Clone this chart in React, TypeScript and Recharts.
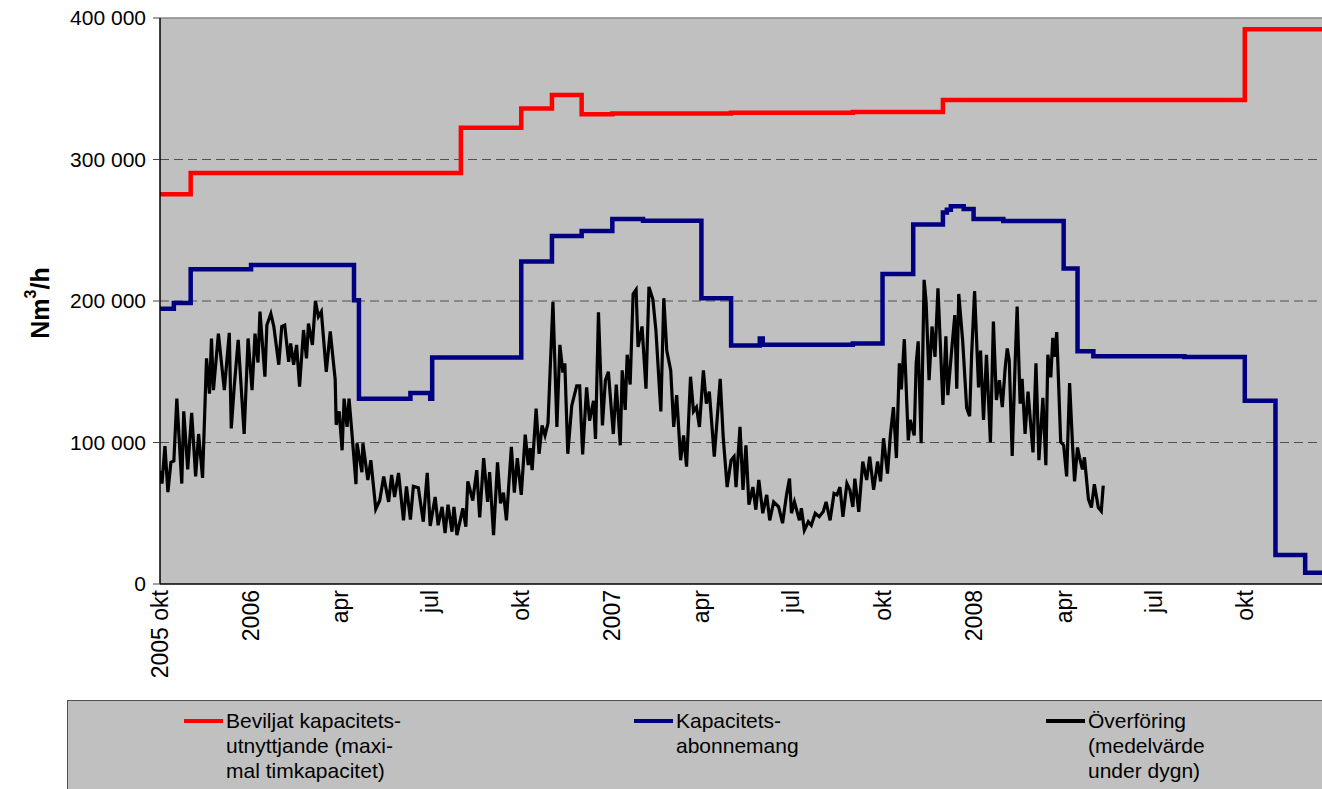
import React from 'react'
import { LineChart, Line, XAxis, YAxis, CartesianGrid, ReferenceLine } from 'recharts'

// x = days since 2005-10-01
const tickDays = [0, 92, 182, 273, 365, 457, 547, 638, 730, 822, 913, 1004, 1096]
const tickLabels = ['2005 okt', '2006', 'apr', 'jul', 'okt', '2007', 'apr', 'jul', 'okt', '2008', 'apr', 'jul', 'okt']
const yTicks = [0, 100000, 200000, 300000, 400000]
const lastDay = 1174

// Beviljat kapacitetsutnyttjande (step changes)
const grantedSteps: [number, number][] = [
  [0, 275500], [31, 290500], [304, 322500], [365, 336000], [396, 345500], [426, 332000],
  [457, 332500], [577, 333000], [700, 333500], [791, 342000], [1096, 392000], [1174, 392000],
]

// Kapacitetsabonnemang (step changes)
const subscriptionSteps: [number, number][] = [
  [0, 194500], [14, 198500], [31, 222500], [92, 225500], [196, 200500], [201, 131000],
  [253, 135000], [273, 131000], [275, 160000], [365, 228000], [396, 246000], [426, 249500],
  [457, 258000], [488, 256800], [547, 202000], [577, 168500], [606, 173500], [609, 169000],
  [700, 170000], [730, 219000], [761, 254000], [791, 262500], [795, 264500], [799, 267000],
  [812, 265000], [822, 258000], [852, 256500], [913, 223000], [927, 164500], [943, 161000],
  [1035, 160500], [1096, 129500], [1127, 20500], [1157, 8000], [1174, 8000],
]

// Överföring, dygnsmedel
const transferDaily: [number, number][] = [
  [0, 80000], [2, 71000], [5, 97500], [8, 65000], [11, 86000], [14, 87000], [17, 131000], [22, 71000],
  [24, 122000], [28, 81000], [32, 121000], [36, 76000], [39, 106000], [43, 75000], [47, 159500],
  [50, 134500], [52, 173500], [54, 137000], [59, 177000], [65, 137000], [70, 177500], [72, 110000],
  [75, 139500], [79, 172500], [85, 106000], [89, 173500], [93, 137000], [96, 177000], [99, 156500],
  [101, 192500], [106, 146500], [108, 183000], [112, 191000], [115, 182000], [120, 155000],
  [123, 182000], [126, 183000], [130, 157000], [132, 170000], [135, 155000], [138, 169000],
  [141, 139500], [145, 179500], [148, 159500], [150, 184000], [154, 169000], [157, 200000],
  [160, 189000], [163, 192500], [168, 150000], [172, 178500], [177, 144500], [178, 112500],
  [181, 122000], [184, 94500], [186, 131000], [189, 111000], [191, 131000], [194, 106000],
  [198, 70500], [199, 99500], [204, 79000], [205, 99500], [210, 73500], [213, 87500], [218, 53000],
  [222, 59000], [226, 76000], [231, 58000], [234, 77000], [237, 61500], [241, 78500], [246, 45000],
  [249, 69000], [253, 45500], [256, 69000], [261, 68000], [266, 44000], [270, 78500], [273, 41000],
  [278, 61500], [281, 41500], [285, 54500], [288, 36000], [291, 56000], [295, 37000], [297, 54500],
  [300, 34500], [303, 44000], [306, 53500], [309, 40500], [311, 72500], [316, 59000], [320, 80500],
  [323, 47000], [327, 89000], [331, 58000], [333, 79000], [337, 34500], [341, 86000], [344, 57000],
  [347, 64500], [350, 45000], [355, 97000], [358, 64500], [361, 89000], [365, 63000], [369, 105500],
  [372, 84000], [374, 96000], [376, 80500], [380, 124000], [383, 92000], [386, 112000], [389, 105000],
  [392, 113500], [397, 199500], [401, 111000], [404, 169000], [407, 149500], [409, 156000],
  [412, 92000], [416, 126000], [421, 140000], [424, 140000], [427, 91500], [431, 139000],
  [434, 115500], [438, 129500], [440, 102500], [443, 192000], [447, 112000], [450, 144000],
  [453, 150000], [458, 106000], [461, 141000], [465, 98000], [467, 151000], [470, 123000],
  [472, 162000], [475, 141000], [478, 205000], [481, 208000], [483, 167500], [487, 182000],
  [491, 138000], [494, 210000], [498, 201000], [501, 179500], [506, 122000], [509, 202000],
  [512, 165000], [516, 151000], [519, 111000], [522, 133500], [526, 87500], [529, 105000],
  [532, 83000], [536, 146500], [539, 122000], [542, 125000], [545, 111000], [549, 151000],
  [552, 127500], [555, 136000], [560, 90000], [566, 145000], [569, 104000], [573, 68500],
  [577, 87500], [580, 90000], [582, 68500], [586, 111000], [589, 66500], [592, 98000], [595, 56000],
  [599, 68500], [602, 52500], [605, 73500], [609, 50000], [613, 63000], [616, 45000], [620, 58000],
  [625, 54500], [629, 43000], [633, 63000], [636, 74500], [638, 50000], [641, 58000], [646, 45000],
  [648, 53500], [651, 38000], [655, 44000], [658, 41500], [662, 50000], [666, 47500], [670, 51000],
  [673, 58000], [677, 45000], [681, 64000], [684, 63000], [687, 68500], [690, 47500], [694, 71000],
  [697, 66500], [700, 54500], [702, 74500], [706, 51000], [710, 86500], [714, 73500], [717, 90000],
  [721, 66500], [725, 86500], [728, 72500], [731, 103000], [735, 78000], [738, 106000],
  [741, 125000], [744, 89000], [747, 156000], [749, 137500], [752, 173000], [756, 101500],
  [758, 116000], [762, 105000], [764, 156000], [766, 171500], [769, 99500], [772, 215000],
  [774, 199500], [777, 144000], [780, 182000], [783, 160500], [786, 209000], [791, 126500],
  [794, 175000], [796, 133500], [800, 166500], [803, 190000], [805, 138000], [807, 205000],
  [811, 171500], [815, 124500], [818, 118500], [820, 162000], [823, 207000], [827, 139000],
  [829, 165000], [832, 116000], [835, 162000], [839, 100000], [842, 185500], [845, 130000],
  [848, 144000], [851, 125000], [854, 153500], [856, 166500], [858, 158000], [861, 90500],
  [864, 157000], [866, 196000], [869, 127500], [871, 145000], [874, 106000], [877, 136000],
  [882, 93000], [885, 156000], [888, 87500], [892, 131500], [895, 84000], [897, 162000],
  [900, 146000], [902, 174000], [904, 160500], [906, 178000], [910, 100500], [913, 98000],
  [916, 76000], [919, 142000], [922, 97500], [924, 72500], [927, 96500], [929, 89500], [932, 81000],
  [934, 89500], [938, 60000], [941, 54000], [944, 70500], [948, 54000], [951, 51500], [953, 69500],
]

const legendItems = [
  { color: '#FF0000', left: 116, lines: ['Beviljat kapacitets-', 'utnyttjande (maxi-', 'mal timkapacitet)'] },
  { color: '#000080', left: 566, lines: ['Kapacitets-', 'abonnemang'] },
  { color: '#000000', left: 978, lines: ['Överföring', '(medelvärde', 'under dygn)'] },
]

const toRows = (pairs: [number, number][]) => pairs.map(([day, v]) => ({ day, v }))

const FONT = '"Liberation Sans", Arial, sans-serif'

const fmtThousands = (v: number) => (v === 0 ? '0' : v.toLocaleString('en-US').replace(/,/g, ' '))

const MonthTick = (props: any) => {
  const { x, y, payload } = props
  const label = tickLabels[tickDays.indexOf(payload.value)]
  const ty = y + 4
  return (
    <text
      x={x}
      y={ty}
      transform={`rotate(-90 ${x} ${ty})`}
      textAnchor="end"
      dominantBaseline="central"
      fontSize={23}
      fontFamily={FONT}
      fill="#000"
    >
      {label}
    </text>
  )
}

const YUnitLabel = () => (
  <text
    x={40}
    y={303}
    transform="rotate(-90 40 303)"
    textAnchor="middle"
    dominantBaseline="central"
    fontSize={25}
    fontWeight="bold"
    fontFamily={FONT}
    fill="#000"
  >
    Nm<tspan fontSize={16} dy={-10}>3</tspan><tspan dy={10}>/h</tspan>
  </text>
)

export default function App() {
  return (
    <div style={{ position: 'absolute', left: 0, top: 0, width: 1322, height: 789, overflow: 'hidden', background: '#fff', fontFamily: FONT }}>
      <LineChart width={1322} height={700} margin={{ top: 18, right: 0, bottom: 0, left: 0 }}>
        <CartesianGrid
          vertical={false}
          fill="#C0C0C0"
          stroke="#505050"
          strokeDasharray="9 5"
          horizontalValues={[100000, 200000, 300000]}
        />
        <XAxis
          type="number"
          dataKey="day"
          domain={[0, lastDay]}
          ticks={tickDays}
          tick={<MonthTick />}
          tickLine={false}
          tickSize={0}
          axisLine={{ stroke: '#000', strokeWidth: 1.5 }}
          height={116}
          allowDataOverflow
        />
        <YAxis
          type="number"
          domain={[0, 400000]}
          ticks={yTicks}
          tickFormatter={fmtThousands}
          width={160}
          tickSize={7}
          tickMargin={7}
          tick={{ fontSize: 21, fill: '#000', fontFamily: FONT }}
          tickLine={{ stroke: '#444' }}
          axisLine={{ stroke: '#000', strokeWidth: 1.5 }}
          label={<YUnitLabel />}
        />
        <ReferenceLine y={400000} stroke="#888" strokeWidth={1.5} />
        <Line
          data={toRows(grantedSteps)}
          dataKey="v"
          type="stepAfter"
          stroke="#FF0000"
          strokeWidth={4.5}
          dot={false}
          isAnimationActive={false}
        />
        <Line
          data={toRows(subscriptionSteps)}
          dataKey="v"
          type="stepAfter"
          stroke="#000080"
          strokeWidth={4.5}
          dot={false}
          isAnimationActive={false}
        />
        <Line
          data={toRows(transferDaily)}
          dataKey="v"
          type="linear"
          stroke="#000"
          strokeWidth={3.2}
          dot={false}
          isAnimationActive={false}
        />
      </LineChart>

      <div
        style={{
          position: 'absolute',
          left: 67,
          top: 700,
          width: 1300,
          height: 120,
          background: '#C0C0C0',
          border: '1px solid #505050',
          fontSize: 21,
          lineHeight: '25px',
          color: '#000',
        }}
      >
        {legendItems.map((item) => (
          <div key={item.lines[0]} style={{ position: 'absolute', left: item.left, top: 7, display: 'flex' }}>
            <div style={{ width: 39, height: 4, marginTop: 11, background: item.color, marginRight: 3 }} />
            <div>
              {item.lines.map((ln) => (
                <div key={ln}>{ln}</div>
              ))}
            </div>
          </div>
        ))}
      </div>
    </div>
  )
}
